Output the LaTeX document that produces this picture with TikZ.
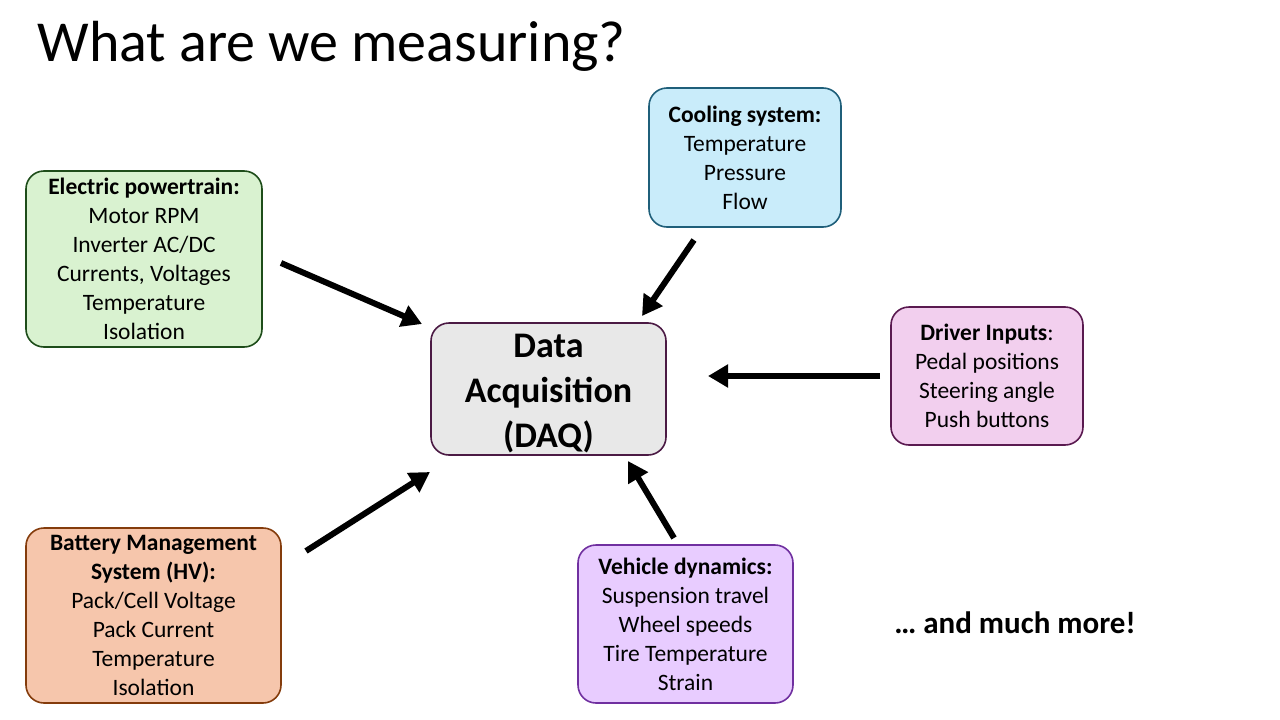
\documentclass[tikz,border=0pt]{standalone}
\usepackage{fontspec}
\setmainfont{Carlito}
\usetikzlibrary{arrows.meta}
\begin{document}
\begin{tikzpicture}[x=1pt,y=-1pt,
  box/.style={draw,line width=1.6pt,rounded corners=18pt,align=center,inner sep=0pt,
    font=\fontsize{23.5}{29}\selectfont},
  arr/.style={line width=6pt,-{Triangle[length=20pt,width=22pt]}}]
\useasboundingbox (0,0) rectangle (1280,720);
\definecolor{gf}{HTML}{D9F2D0}\definecolor{gd}{HTML}{1E4D1A}
\definecolor{cf}{HTML}{C9ECFA}\definecolor{cd}{HTML}{1F5F7A}
\definecolor{df}{HTML}{E8E8E8}\definecolor{dd}{HTML}{4B1A44}
\definecolor{pf}{HTML}{F2CFEE}\definecolor{pd}{HTML}{5A1A50}
\definecolor{of}{HTML}{F6C6AC}\definecolor{od}{HTML}{843C0C}
\definecolor{vf}{HTML}{E8CCFF}\definecolor{vd}{HTML}{7030A0}
\node[anchor=west,font=\fontsize{58}{66}\selectfont] (title) at (34,46) {What are we measuring?};
\node[box,fill=gf,draw=gd,minimum width=236pt,minimum height=176pt] (ep) at (144,259)
 {\textbf{Electric powertrain:}\\Motor RPM\\Inverter AC/DC\\Currents, Voltages\\Temperature\\Isolation};
\node[box,fill=cf,draw=cd,minimum width=192pt,minimum height=139pt] (cs) at (745,157.5)
 {\textbf{Cooling system:}\\Temperature\\Pressure\\Flow};
\node[box,fill=df,draw=dd,minimum width=235pt,minimum height=132pt] (daq) at (548.5,389) {};
\node[align=center,font=\bfseries\fontsize{36}{45}\selectfont] at (548.5,394) {Data\\Acquisition\\(DAQ)};
\node[box,fill=pf,draw=pd,minimum width=192pt,minimum height=138pt] (di) at (987,376)
 {\textbf{Driver Inputs}:\\Pedal positions\\Steering angle\\Push buttons};
\node[box,fill=of,draw=od,minimum width=255pt,minimum height=175pt] (bms) at (153.5,615.5)
 {\textbf{Battery Management}\\\textbf{System (HV):}\\Pack/Cell Voltage\\Pack Current\\Temperature\\Isolation};
\node[box,fill=vf,draw=vd,minimum width=215pt,minimum height=158pt] (vd) at (685.5,624)
 {\textbf{Vehicle dynamics:}\\Suspension travel\\Wheel speeds\\Tire Temperature\\Strain};
\node[font=\bfseries\fontsize{31}{36}\selectfont] (more) at (1015,623) {\dots\ and much more!};
\coordinate (a1) at (281,263); \coordinate (b1) at (422,324);
\coordinate (a2) at (694,240); \coordinate (b2) at (642,316);
\coordinate (a3) at (880,376); \coordinate (b3) at (708,376);
\coordinate (a4) at (306,551); \coordinate (b4) at (430,472);
\coordinate (a5) at (674,538); \coordinate (b5) at (628,461);
\foreach \i in {1,...,5} \draw[arr] (a\i) -- (b\i);
\end{tikzpicture}
\end{document}
